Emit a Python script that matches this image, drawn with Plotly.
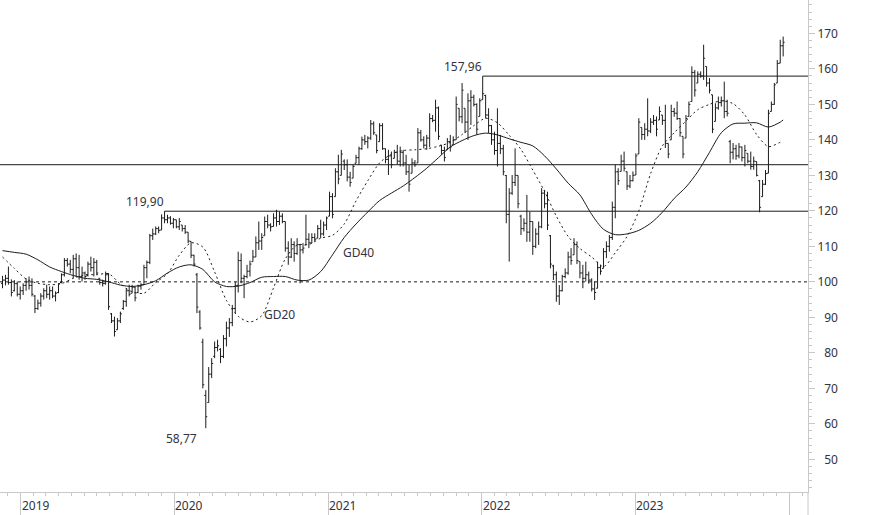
import pandas as pd
import plotly.graph_objects as go

# ---------------- data (weekly bars) ----------------
start_week = "2018-11-19"

opens = [99.5, 100.5, 101, 99.8, 97.5, 99.5, 96.5, 97.5, 99, 100,
 99, 96, 92.5, 94, 96, 97.5, 96.5, 97.5, 96, 97,
 99.8, 102, 106, 105, 103.5, 106.5, 104, 101.5, 102.5, 101.8,
 105, 104, 105.5, 101, 99.8, 99.5, 102, 91, 89, 86.5,
 89, 92.5, 94.5, 97.5, 96.8, 98.5, 97, 98.8, 99.2, 104,
 105.5, 113, 113.5, 115, 114.6, 118, 117.5, 118, 116.5, 117.5,
 115.5, 116, 115, 114, 111.4, 107.5, 102, 91.5, 83, 68,
 66, 74, 79, 81.5, 81, 79, 84, 87, 88.5, 92.5,
 99, 106, 101, 101.5, 103, 105.7, 107, 111, 111.5, 113,
 117, 116, 115.6, 118, 117, 118.5, 117, 109.5, 107, 110.5,
 108, 110.5, 109, 110.4, 112, 111, 112.5, 112.3, 115, 113.5,
 116, 118.5, 124, 124, 131, 130, 134, 133, 129.5, 129.2,
 133.4, 135, 137.5, 140, 139.5, 140.5, 144.5, 141.4, 139.5, 144,
 137.5, 134.5, 135.5, 134.8, 136.5, 134, 136.5, 133.5, 131, 130.6,
 133.5, 133.5, 142, 140, 138.5, 140.5, 146, 145.5, 149, 138.5,
 137, 137.2, 139.5, 138.6, 140, 148.9, 146.5, 148.9, 145, 151,
 152, 150, 146.6, 151.3, 152.5, 147, 144, 140, 137, 139,
 137.5, 130, 119, 125, 128, 130, 118.5, 115, 116.5, 114,
 117, 110, 113.5, 115.5, 125, 122, 113, 104.5, 102, 96,
 97.5, 101.5, 102.5, 107, 107.6, 110.5, 105.7, 102.5, 101, 102,
 100.5, 98, 98.2, 104, 103.8, 108.5, 110, 112.5, 121, 131,
 131.1, 134, 131, 127, 128.5, 130.1, 136, 143.5, 141.5, 143,
 142.5, 145, 145.5, 145.6, 147, 145.5, 139, 140, 148, 147.5,
 146, 141, 140.5, 146.6, 150.8, 159, 156, 158.5, 158, 160.7,
 156, 152.7, 145.2, 149, 150.5, 151, 148, 139.5, 136.5, 137.5,
 135.5, 138, 135, 136.2, 134, 132.5, 133.9, 128.5, 124, 127.5,
 130.6, 148, 150, 156, 161.6, 166.5]

highs = [101.7, 102, 104.3, 100.7, 100.5, 100.1, 98.7, 99.6, 101, 101.5,
 101, 96.3, 95, 96.8, 98.2, 99.2, 98.7, 98.7, 97.3, 99.6,
 102.4, 106.7, 106.7, 106.2, 107.6, 108, 107.6, 104.3, 102.9, 105.7,
 107.1, 106.7, 106.2, 101, 100.6, 102.9, 102.5, 91.2, 90.2, 89.8,
 91.6, 94.9, 98.2, 99.2, 99.2, 98.7, 99.2, 99.6, 104.8, 106,
 113.5, 115, 115.6, 115.6, 119, 119.9, 118.9, 118.5, 118, 117.5,
 118, 116, 116, 114, 111.4, 107.6, 102.5, 92, 84, 69.5,
 76, 78.5, 83.2, 83.7, 81.3, 85, 88.8, 89.8, 93.5, 100,
 108.5, 108, 102, 104.8, 106, 109, 112.8, 117, 113.7, 118.4,
 118.9, 116.5, 119.3, 120.3, 119.8, 119.3, 117, 111.4, 112.3, 111.4,
 112.3, 110.5, 110.9, 118.9, 113.7, 113.7, 113.7, 116, 117.5, 117,
 118.4, 125.4, 125, 132, 135.8, 137.2, 134.5, 134.5, 131, 133,
 135.8, 138.1, 140.9, 141.4, 141, 145.6, 145.2, 141.4, 144.7, 144.7,
 137.6, 137.2, 136.7, 137.2, 138.6, 138.1, 137.2, 135.8, 132.9, 134.8,
 134.3, 143.3, 142.8, 141, 141.4, 147.5, 147, 151.3, 149.4, 138.6,
 138.1, 140.5, 141.4, 141, 152.2, 148.9, 156, 148.9, 153.1, 154,
 152.7, 150.3, 151.7, 157.96, 152.7, 148.9, 144.2, 142.3, 148.9, 141.4,
 138.6, 130.1, 126.4, 130.1, 137.6, 130, 118.9, 117.9, 124.5, 119.8,
 117, 115.1, 117, 126.4, 125.9, 125.4, 113.2, 104.8, 102.9, 99.1,
 102, 103.8, 108.5, 109.5, 112.3, 111.4, 105.7, 104.8, 105.7, 102.9,
 101, 100.1, 105.7, 104.8, 109.5, 111.4, 113.2, 122.6, 133, 132,
 135.8, 136.7, 131.1, 130.1, 131.1, 136.2, 146.1, 143.5, 144.7, 151.7,
 146.1, 147, 146.6, 149.4, 147, 149.9, 139, 149.9, 149, 150.8,
 146.1, 141, 147, 150.8, 160.7, 159.7, 159.3, 159.3, 166.8, 160.7,
 157.4, 152.7, 150.3, 152.2, 152.2, 156.4, 151.3, 140, 139.1, 138.6,
 139.1, 138.1, 138.6, 136.2, 136.7, 135.3, 133.9, 128.7, 128.7, 131.5,
 148.5, 150.8, 156, 162.5, 168.2, 169.1]

lows = [98.2, 99, 99.2, 95.9, 97.3, 95.9, 95, 96.3, 97.5, 97.8,
 95.9, 91.2, 92.1, 93, 95, 95.4, 95, 95.4, 94.5, 96.8,
 99.6, 101.5, 104.3, 102.4, 101, 101.5, 100.6, 100.1, 100.6, 101.5,
 102.9, 101.5, 102, 99.2, 98.7, 99.2, 92.1, 88.4, 84.6, 86.5,
 88.4, 92.1, 93, 95.9, 96.8, 94.5, 96.8, 97.8, 99.2, 101,
 105, 111.8, 113.2, 113.7, 114.6, 116.5, 116.5, 116.1, 115.1, 115.1,
 114.6, 114.2, 113.5, 110.9, 106.7, 104.3, 91.2, 86.5, 70, 58.77,
 66, 72.9, 78.5, 80.4, 77.1, 78.5, 81.8, 84.5, 87.5, 91.2,
 97, 99.6, 95.4, 101, 101.5, 105.7, 107, 109, 109, 113,
 115.1, 114.2, 115.6, 115.6, 116, 116.5, 108.5, 104.8, 106.7, 105.7,
 107.6, 99.6, 108, 110.4, 109.5, 110.9, 111.4, 112.3, 112.3, 113,
 114.6, 118.5, 117.9, 124, 127.5, 130, 131.5, 128.3, 126.8, 129.2,
 133.4, 133, 137.2, 138.6, 137.6, 140, 141.4, 136.2, 139.5, 137.2,
 133.4, 130.1, 132, 134.8, 133, 132.5, 132.5, 130.1, 125.4, 130.6,
 132.4, 133.5, 139.5, 137.6, 137.2, 138, 145, 142.3, 140, 135.8,
 133.9, 137.2, 136.7, 138.6, 140, 145.2, 144.7, 141.9, 140, 144.2,
 149.4, 141.4, 146.6, 151.3, 146, 141.9, 138.6, 135.8, 132.5, 136,
 130, 116.5, 105.7, 124.5, 127, 120.7, 113.2, 114.2, 111.3, 111.3,
 107.6, 109.5, 110.4, 115.1, 120.7, 114.6, 103.8, 100.5, 94.4, 93.5,
 97.3, 101, 102, 104.8, 107.6, 105, 101, 98.2, 100.1, 99.5,
 97.3, 94.9, 98.2, 102, 103.8, 106.7, 108.5, 111.8, 117.9, 127.3,
 131.1, 131.1, 125.9, 126.4, 128.3, 130.1, 136, 140, 140, 141,
 141.9, 144.2, 141, 145.6, 144.2, 137.7, 134.8, 140, 146.5, 145.6,
 140.9, 134.8, 140.5, 146.6, 150.8, 152.2, 156, 157.5, 156.9, 155,
 153.1, 141.9, 145.2, 148.5, 149.4, 146.1, 146.6, 133.4, 134.5, 134.4,
 134.8, 133.9, 132.5, 133.4, 131.6, 131.6, 129.7, 119.6, 124, 127.3,
 130.6, 148, 149.9, 156, 161.6, 163.5]

closes = [100.5, 101, 99.8, 97, 99.5, 96.5, 97.5, 99, 100, 99,
 96.5, 92.5, 94, 96, 97.5, 96.5, 97.5, 96, 96.8, 99.5,
 102, 106, 105, 103.5, 106.5, 104, 101.5, 102.5, 101.5, 105,
 104, 105.5, 102.5, 99.8, 99.5, 102, 93, 89, 86, 89,
 91, 94.5, 97.5, 96.5, 98.5, 95.5, 98.8, 99.2, 104, 105.5,
 113, 113.5, 115, 114.5, 118, 117.5, 118, 116.5, 117.5, 115.5,
 117, 115, 114, 111.5, 107.5, 105, 92.9, 87, 71, 62,
 74, 77, 81.5, 82, 79, 84, 87, 88.5, 92.5, 99,
 106, 101, 101.5, 103, 105, 107, 111, 111.5, 112.5, 117,
 116, 115.5, 118, 117, 118.5, 117, 109.5, 107, 110.5, 108,
 110.5, 109, 109.5, 112, 111, 112.5, 112, 115, 113.5, 116,
 118, 124, 119, 131, 129, 136, 133, 129.5, 128, 132.5,
 135, 137.5, 140, 139.5, 140.5, 144.5, 142, 137, 144, 137.5,
 134.5, 135.5, 133, 136.5, 134, 136.5, 133.5, 131, 127.5, 133.5,
 133, 142, 140, 138.5, 140.5, 146, 145.5, 149, 141, 137,
 135, 139.5, 138, 140, 150, 146.5, 154, 145, 151, 152,
 150, 143, 151, 153, 147, 144, 140, 137, 139, 137.5,
 131, 119, 125, 128, 130, 122, 115, 116.5, 114, 117,
 110, 113.5, 115.5, 125, 122, 116, 105, 102, 96, 97.5,
 101.5, 102.5, 107, 106, 110.5, 106, 102.5, 101, 102, 100.5,
 98, 97, 104, 103, 108.5, 110, 112.5, 121, 131, 128.5,
 134, 132, 127, 128.5, 130, 135.5, 145, 141.5, 143, 142.5,
 145, 145.5, 143, 148, 145.5, 139, 136, 148, 147.5, 146,
 142, 136, 146, 150, 159, 154, 158.5, 158, 163, 156,
 154, 143, 149, 150.5, 151, 148, 147.5, 136.5, 137.5, 135.5,
 138, 135, 137, 134, 132.5, 134, 130, 121, 127.5, 130.5,
 147.5, 150, 155.5, 161.5, 166.5, 167.5]

# moving averages read every 4 weeks (week index -> value)
ma_weeks = [0, 4, 8, 12, 16, 20, 24, 28, 32, 36, 40, 44, 48, 52, 56, 60, 64,
            68, 72, 76, 80, 84, 88, 92, 96, 100, 104, 108, 112, 116, 120, 124,
            128, 132, 136, 140, 144, 148, 152, 156, 160, 164, 168, 172, 176,
            180, 184, 188, 192, 196, 200, 204, 208, 212, 216, 220, 224, 228,
            232, 236, 240, 244, 248, 252, 256, 260, 264, 265]
gd20 = [107, 103.8, 100.8, 99.6, 99.2, 99.5, 101, 102, 102, 102.3, 99.4, 97.2,
        96.8, 99.8, 102.3, 107.5, 111, 109.8, 102.8, 94.8, 90.3, 88.7, 90.5,
        98.3, 106.5, 110.4, 110.5, 112.3, 113.1, 116.3, 122.8, 128.5, 133.5,
        136, 137, 137.2, 137.5, 138.2, 139.3, 141.5, 144, 146.1, 144.8, 141.3,
        137.3, 131.5, 125.5, 118.5, 112.8, 109.4, 107, 104.3, 108.2, 112.8,
        120, 130.5, 138.3, 142, 145.3, 148.5, 150, 151, 150.2, 147, 141.5,
        138.1, 139.3, 139.5]
gd40 = [108.8, 108.3, 107.8, 106.2, 104.2, 102.9, 101.8, 101, 100.7, 100,
        99.1, 98.7, 99.2, 100.3, 102.5, 104.2, 104.8, 103.5, 100, 98.7, 98.8,
        99.8, 101.3, 101.5, 101.5, 100.5, 100.5, 102.9, 107.6, 112.5, 116.3,
        119.7, 122.9, 125, 127, 129.4, 132, 135, 138, 139.8, 141.2, 141.9,
        141.4, 140.3, 139.3, 138.3, 135.5, 131.8, 127.8, 124.5, 119, 114.8,
        113.3, 113.5, 114.5, 116.5, 119.6, 123.5, 126.7, 131, 136.5, 142,
        144.5, 144.7, 144.8, 143.6, 145, 145.6]

level_hi = 157.96
level_mid = 133
level_lo = 119.90
level_base = 100
low_value = 58.77
year_labels = ["2019", "2020", "2021", "2022", "2023"]
y_ticks = [50, 60, 70, 80, 90, 100, 110, 120, 130, 140, 150, 160, 170]

# ---------------- figure ----------------
dates = pd.date_range(start_week, periods=len(closes), freq="7D")
x_start, x_end = "2018-11-13", "2024-02-15"
ink = "#1c1c1c"
axis_grey = "#c8c8c8"
text_col = "#333340"
font_family = "Noto Sans"

fig = go.Figure()
fig.add_trace(go.Ohlc(
    x=dates, open=opens, high=highs, low=lows, close=closes,
    increasing=dict(line=dict(color=ink, width=1)),
    decreasing=dict(line=dict(color=ink, width=1)),
    tickwidth=0.5, showlegend=False, hoverinfo="skip"))

ma_dates = [dates[i] for i in ma_weeks]
fig.add_trace(go.Scatter(x=ma_dates, y=gd20, mode="lines",
                         line=dict(color=ink, width=1, dash="2px,3px", shape="spline", smoothing=0.8),
                         showlegend=False, hoverinfo="skip"))
fig.add_trace(go.Scatter(x=ma_dates, y=gd40, mode="lines",
                         line=dict(color=ink, width=1, shape="spline", smoothing=0.8),
                         showlegend=False, hoverinfo="skip"))

hi_idx = highs.index(max(highs[:200]))
lo_hi_idx = highs.index(level_lo)
low_idx = lows.index(low_value)

shapes = [
    dict(type="line", xref="x", yref="y", x0=dates[hi_idx], x1=x_end, y0=level_hi, y1=level_hi,
         line=dict(color=ink, width=1)),
    dict(type="line", xref="paper", yref="y", x0=0, x1=1, y0=level_mid, y1=level_mid,
         line=dict(color=ink, width=1)),
    dict(type="line", xref="x", yref="y", x0=dates[lo_hi_idx], x1=x_end, y0=level_lo, y1=level_lo,
         line=dict(color=ink, width=1)),
    dict(type="line", xref="paper", yref="y", x0=0, x1=1, y0=level_base, y1=level_base,
         line=dict(color=ink, width=1, dash="3px,3px")),
    dict(type="line", xref="paper", yref="paper", x0=1, x1=1, y0=-0.1, y1=0,
         line=dict(color=axis_grey, width=1)),
]

def fmt(v):
    return f"{v:.2f}".replace(".", ",")

annotations = [
    dict(x=dates[hi_idx], y=level_hi, xref="x", yref="y", text=fmt(level_hi), showarrow=False,
         xanchor="right", yanchor="bottom", xshift=1, yshift=-1),
    dict(x=dates[lo_hi_idx], y=level_lo, xref="x", yref="y", text=fmt(level_lo), showarrow=False,
         xanchor="right", yanchor="bottom", xshift=1, yshift=-1),
    dict(x=dates[low_idx], y=low_value, xref="x", yref="y", text=fmt(low_value), showarrow=False,
         xanchor="right", yanchor="top", xshift=-7, yshift=0),
    dict(x="2020-09-06", y=90.7, xref="x", yref="y", text="GD20", showarrow=False,
         xanchor="center", yanchor="middle"),
    dict(x="2021-03-15", y=108.2, xref="x", yref="y", text="GD40", showarrow=False,
         xanchor="center", yanchor="middle"),
]
for yl in year_labels:
    annotations.append(dict(x=f"{yl}-01-01", y=0, xref="x", yref="paper", text=yl,
                            showarrow=False, xanchor="left", yanchor="top",
                            borderpad=0, xshift=0, yshift=-4))

fig.update_layout(
    width=874, height=515,
    margin=dict(l=0, r=66, t=0, b=23),
    paper_bgcolor="white", plot_bgcolor="white",
    font=dict(family=font_family, size=12, color=text_col),
    shapes=shapes, annotations=annotations,
    hovermode=False,
    xaxis=dict(type="date", range=[x_start, x_end], rangeslider=dict(visible=False),
               showgrid=False, zeroline=False, showline=True, linecolor=axis_grey, linewidth=1,
               ticks="outside", tick0="2019-01-01", dtick="M12", ticklen=23,
               tickcolor=axis_grey, tickwidth=1, showticklabels=False,
               minor=dict(ticks="outside", dtick="M1", tick0="2019-01-01", ticklen=3,
                          tickcolor=axis_grey, tickwidth=1)),
    yaxis=dict(side="right", range=[40.8, 179.4], showgrid=False, zeroline=False,
               showline=True, linecolor=axis_grey, linewidth=1,
               ticks="outside", ticklen=6, tickcolor=axis_grey, tickwidth=1,
               tickvals=y_ticks,
               ticktext=[("\u2007" + str(v)) if v < 100 else str(v) for v in y_ticks],
               tickfont=dict(family=font_family, size=12, color=text_col),
               minor=dict(ticks="outside", dtick=2, ticklen=3, tickcolor=axis_grey, tickwidth=1)),
)

fig.write_html("out.html", config={"displayModeBar": False})
